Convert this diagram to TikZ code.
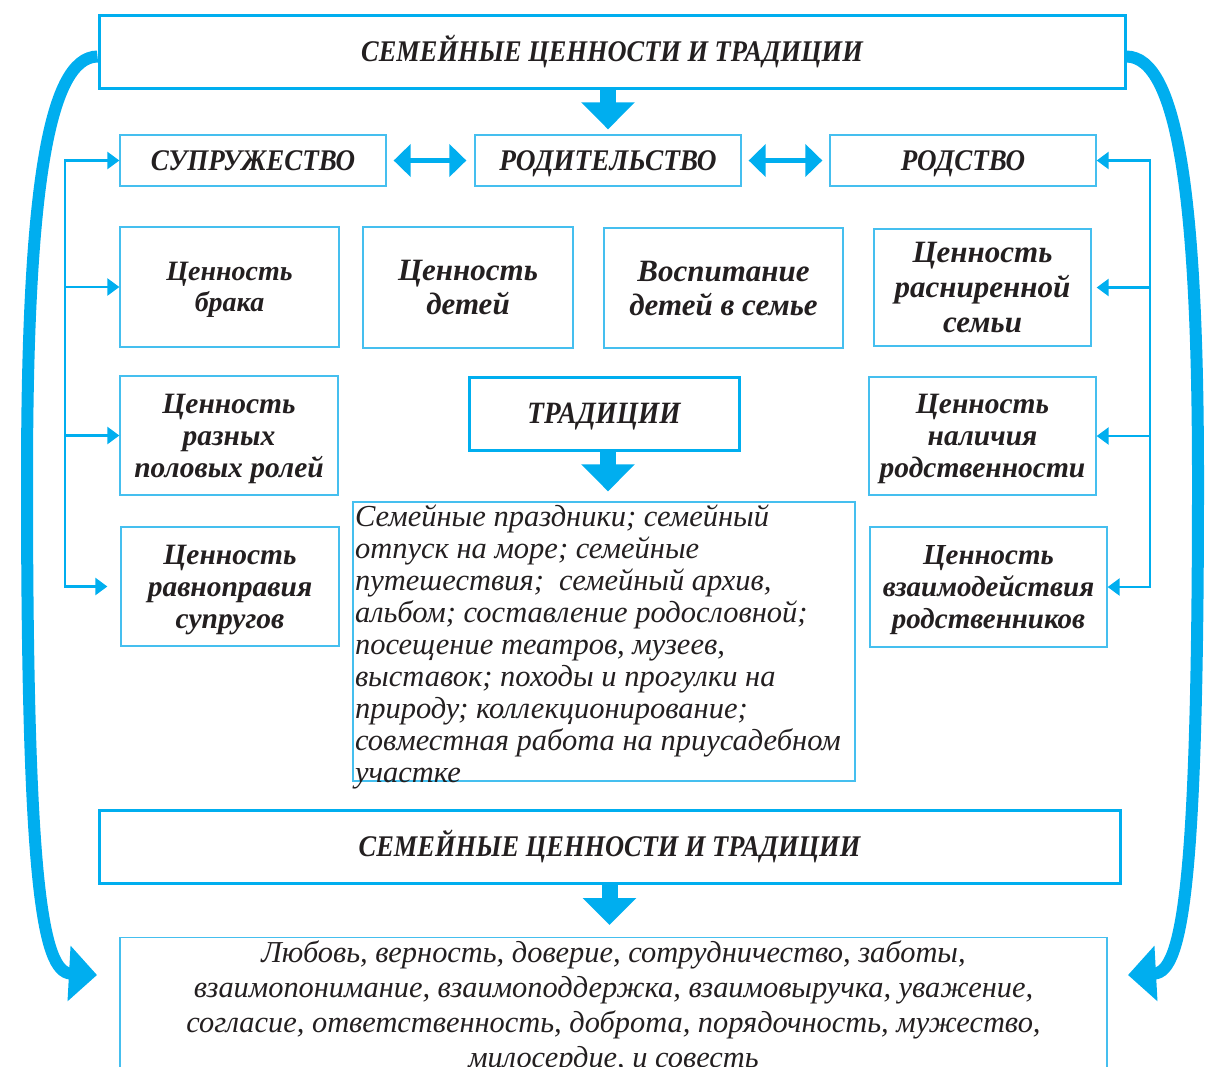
\documentclass[tikz,border=0pt]{standalone}
\usepackage{fontspec}
\setmainfont{Liberation Serif}
\usetikzlibrary{arrows.meta}
\definecolor{cy}{HTML}{00AEEF}
\definecolor{cyl}{HTML}{45BFEF}
\definecolor{tx}{HTML}{231F20}
\newcommand{\fsz}[2]{\fontsize{#1}{#2}\selectfont}
\begin{document}
\begin{tikzpicture}[x=1pt,y=-1pt,
  box/.style={draw=cyl, line width=1.3pt, text=tx, align=center, inner sep=0pt, text depth=0pt},
  thickbox/.style={draw=cy, line width=3pt, text=tx, align=center, inner sep=0pt},
  caps/.style 2 args={font={\bfseries\itshape\fsz{#1}{32}\addfontfeature{FakeStretch=#2}}, text height=20pt, text depth=0pt},
  bi/.style 2 args={font=\bfseries\itshape\fsz{#1}{#2}},
  brk/.style={draw=cy, line width=2.5pt},
  brktip/.style={brk, -{Triangle[length=12pt,width=17pt]}},
  dbl/.style={draw=cy, line width=5pt, {Triangle[length=17pt,width=32pt]}-{Triangle[length=17pt,width=32pt]}},
  blockarr/.style={draw=cy, line width=16pt, -{Triangle[length=27pt,width=52pt]}},
  bigarr/.style={draw=cy, line width=12pt, -{Triangle[length=28pt,width=54pt]}},
]
\clip (0,0) rectangle (1206,1066);
% headers
\node[thickbox, caps={30}{0.88}, minimum width=1026pt, minimum height=73pt] (top) at (612,51.5) {СЕМЕЙНЫЕ ЦЕННОСТИ И ТРАДИЦИИ};
\node[box, caps={30}{0.9}, minimum width=266pt, minimum height=51pt] (sup) at (253,160.5) {СУПРУЖЕСТВО};
\node[box, caps={30}{0.91}, minimum width=266pt, minimum height=51pt] (rod) at (608,160.5) {РОДИТЕЛЬСТВО};
\node[box, caps={30}{0.9}, minimum width=266pt, minimum height=51pt] (rds) at (963,160.5) {РОДСТВО};
% row 2
\node[box, bi={28}{31}, minimum width=219pt, minimum height=120pt] (brak) at (229.5,287) {Ценность\\брака};
\node[box, bi={31}{34}, minimum width=210pt, minimum height=121pt] (deti) at (468,287.5) {Ценность\\детей};
\node[box, bi={31}{34}, minimum width=239pt, minimum height=120pt] (vosp) at (723.5,288) {Воспитание\\детей в семье};
\node[box, bi={31}{35}, minimum width=217pt, minimum height=117pt] (rasn) at (982.5,287.5) {Ценность\\расниренной\\семьи};
% row 3
\node[box, bi={29.5}{32}, minimum width=218pt, minimum height=119pt] (roli) at (229,435.5) {Ценность\\разных\\половых ролей};
\node[thickbox, caps={31}{0.88}, minimum width=270pt, minimum height=73pt] (trad) at (604,413.5) {ТРАДИЦИИ};
\node[box, bi={29.5}{32}, minimum width=227pt, minimum height=118pt] (nal) at (982.5,436) {Ценность\\наличия\\родственности};
% row 4
\node[box, bi={29.5}{32}, minimum width=218pt, minimum height=119pt] (ravn) at (230,586.5) {Ценность\\равноправия\\супругов};
\node[box, bi={29}{32}, minimum width=237pt, minimum height=120pt] (vzaim) at (988.5,587) {Ценность\\взаимодействия\\родственников};
% traditions text
\node[box, font=\itshape, align=left, text depth=, minimum width=502pt, minimum height=279pt] (ttext) at (604,641.5)
  {\parbox[c][274pt][t]{498pt}{\raggedright\fsz{30.5}{32}Семейные праздники; семейный\\
  отпуск на море; семейные\\
  путешествия;\ \ семейный архив,\\
  альбом; составление родословной;\\
  посещение театров, музеев,\\
  выставок; походы и прогулки на\\
  природу; коллекционирование;\\
  совместная работа на приусадебном\\
  участке}};
% bottom
\node[thickbox, caps={30}{0.88}, minimum width=1021pt, minimum height=73pt] (bot) at (609.5,846.5) {СЕМЕЙНЫЕ ЦЕННОСТИ И ТРАДИЦИИ};
\node[box, font=\itshape, anchor=north, text depth=, inner sep=0pt, minimum width=987pt, minimum height=150pt] (vals) at (613.5,937)
  {\parbox[c][150pt][t]{980pt}{\centering\fsz{30.4}{35}\vspace*{3pt}Любовь, верность, доверие, сотрудничество, заботы,\\
  взаимопонимание, взаимоподдержка, взаимовыручка, уважение,\\
  согласие, ответственность, доброта, порядочность, мужество,\\
  милосердие, и совесть}};
% block arrows
\draw[blockarr, shorten >=5pt] (rod.north |- top.south) -- (rod.north);
\draw[blockarr, shorten >=10pt] ([xshift=4pt]trad.south) -- ([xshift=4pt]trad.south |- ttext.north);
\draw[blockarr, shorten >=12pt] (bot.south) -- (bot.south |- vals.north);
% double arrows
\draw[dbl, shorten <=7pt, shorten >=8pt] (sup.east) -- (rod.west);
\draw[dbl, shorten <=7pt, shorten >=7pt] (rod.east) -- (rds.west);
% left bracket
\coordinate (lt) at (65,160.5);
\coordinate (lb) at (65,587);
\draw[brk, line cap=rect] (lt) -- (lb);
\draw[brktip] (lt) -- (sup.west);
\draw[brktip] (brak.west -| lt) -- (brak.west);
\draw[brktip] (roli.west -| lt) -- (roli.west);
\draw[brktip, shorten >=13pt] (ravn.west -| lt) -- (ravn.west);
% right bracket
\coordinate (rt) at (1150,160.5);
\coordinate (rb) at (1150,587);
\draw[brk, line cap=rect] (rt) -- (rb);
\draw[brktip] (rt) -- (rds.east);
\draw[brktip, shorten >=5pt] (rasn.east -| rt) -- (rasn.east);
\draw[brktip] (nal.east -| rt) -- (nal.east);
\draw[brktip] (vzaim.east -| rt) -- (vzaim.east);
% big curved arrows
\coordinate (lend) at (97,975);
\coordinate (rend) at (1128,975);
\draw[bigarr] ([yshift=-5pt]top.west) .. controls (47,57) and (27,200) .. (27,480) .. controls (27,880) and (42,972) .. (lend);
\draw[bigarr] ([yshift=-5pt]top.east) .. controls (1178,57) and (1198,200) .. (1198,480) .. controls (1198,880) and (1183,972) .. (rend);
\end{tikzpicture}
\end{document}
